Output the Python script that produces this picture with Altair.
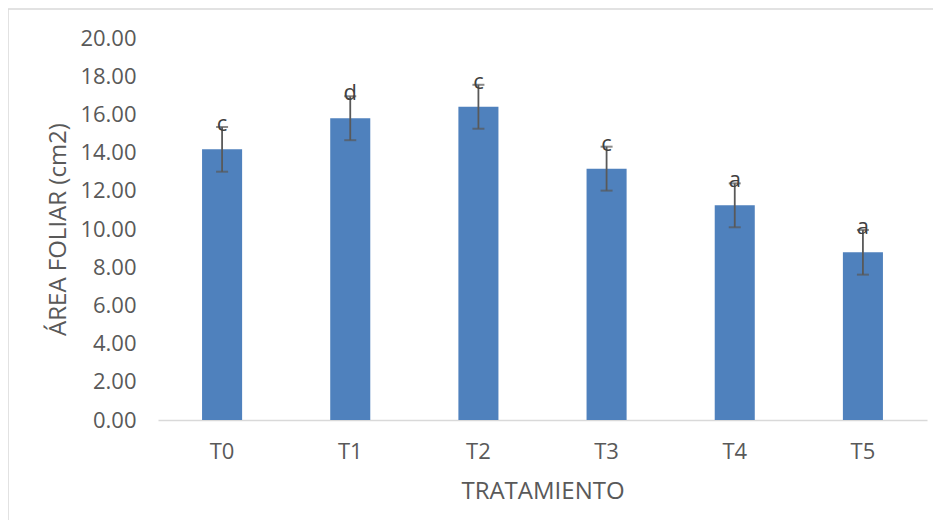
import altair as alt
import pandas as pd

tratamientos = ["T0", "T1", "T2", "T3", "T4", "T5"]
area_foliar = [14.17, 15.80, 16.40, 13.16, 11.24, 8.78]
error = [1.17, 1.15, 1.15, 1.15, 1.15, 1.17]
letras = ["c", "d", "c", "c", "a", "a"]
y_ticks = [0, 2, 4, 6, 8, 10, 12, 14, 16, 18, 20]

df = pd.DataFrame({
    "trat": tratamientos,
    "area": area_foliar,
    "err": error,
    "letra": letras,
})
df["lo"] = df["area"] - df["err"]
df["hi"] = df["area"] + df["err"]

FONT = "Open Sans"
GREY = "#595959"
TICK_FS = 22
TITLE_FS = 24

x_axis = alt.Axis(
    title="TRATAMIENTO",
    labelAngle=0,
    ticks=False,
    domainColor="#d9d9d9",
    domainWidth=1.5,
    labelFont=FONT,
    labelFontSize=TICK_FS,
    labelColor=GREY,
    labelPadding=31,
    labelBaseline="middle",
    titleFont=FONT,
    titleFontSize=TITLE_FS,
    titleFontWeight="normal",
    titleColor=GREY,
    titleY=71,
    titleBaseline="middle",
)

y_axis = alt.Axis(
    title="ÁREA FOLIAR (cm2)",
    values=y_ticks,
    format=".2f",
    grid=False,
    ticks=False,
    domain=False,
    labelOverlap=False,
    labelFont=FONT,
    labelFontSize=TICK_FS,
    labelColor=GREY,
    labelPadding=22,
    titleFont=FONT,
    titleFontSize=TITLE_FS,
    titleFontWeight="normal",
    titleColor=GREY,
    titleX=-100,
    titleY=191,
    titleAngle=270,
    titleBaseline="middle",
    titleAlign="center",
)

x_scale = alt.Scale(paddingInner=0.6875, paddingOuter=0.34375)
y_scale = alt.Scale(domain=[0, 20], nice=False)


def xenc():
    return alt.X("trat:N", sort=tratamientos, scale=x_scale, axis=x_axis)


def yenc(field):
    return alt.Y(field, scale=y_scale, axis=y_axis, title="ÁREA FOLIAR (cm2)")


bars = alt.Chart(df).mark_bar(color="#4f81bd").encode(
    x=xenc(),
    y=yenc("area:Q"),
)

errbars = alt.Chart(df).mark_rule(color=GREY, strokeWidth=1.8).encode(
    x=xenc(),
    y=yenc("lo:Q"),
    y2="hi:Q",
)

caps_lo = alt.Chart(df).mark_tick(color=GREY, thickness=2, size=12, orient="horizontal").encode(
    x=xenc(),
    y=yenc("lo:Q"),
)

caps_hi = alt.Chart(df).mark_tick(color=GREY, thickness=2, size=12, orient="horizontal").encode(
    x=xenc(),
    y=yenc("hi:Q"),
)

labels = alt.Chart(df).mark_text(
    font=FONT, fontSize=TICK_FS, color="#404040", baseline="alphabetic", dy=4
).encode(
    x=xenc(),
    y=yenc("hi:Q"),
    text="letra:N",
)

# chart-area frame (light grey border of the Excel chart object)
frame_top = alt.Chart(df.head(1)).mark_rule(color="#d9d9d9", strokeWidth=1.5).encode(
    x=alt.value(-150), x2=alt.value(800), y=alt.value(-29)
)
frame_left = alt.Chart(df.head(1)).mark_rule(color="#d9d9d9", strokeWidth=1.5).encode(
    x=alt.value(-150), y=alt.value(-29), y2=alt.value(520)
)

chart = (
    alt.layer(frame_top, frame_left, bars, errbars, caps_lo, caps_hi, labels)
    .properties(
        width=769,
        height=382,
        autosize=alt.AutoSizeParams(type="none"),
        padding={"left": 150, "top": 30, "right": 6, "bottom": 100},
    )
    .configure_view(stroke=None)
    .configure_axisY(labelOverlap=False)
)

chart.save("out.html", embed_options={"renderer": "svg", "actions": False})
